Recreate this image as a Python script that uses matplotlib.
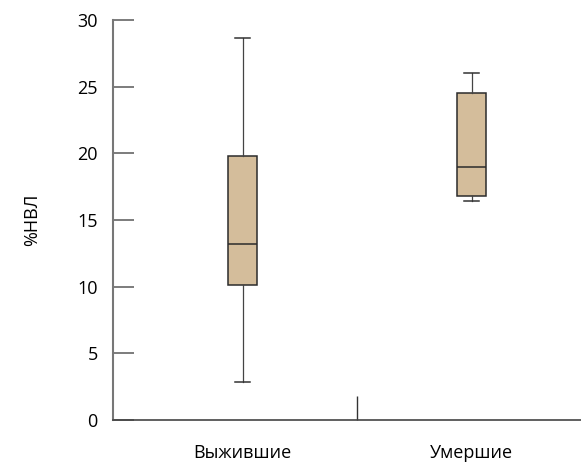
import matplotlib
matplotlib.use("Agg")
import matplotlib.pyplot as plt

categories = ["Выжившие", "Умершие"]
whislo = [2.85, 16.4]
q1 = [10.1, 16.8]
med = [13.2, 19.0]
q3 = [19.8, 24.55]
whishi = [28.65, 26.0]
yticks = [0, 5, 10, 15, 20, 25, 30]

plt.rcParams['font.family'] = ['Open Sans', 'DejaVu Sans']
fig = plt.figure(figsize=(5.81, 4.66), dpi=100)
ax = fig.add_axes([113/581, 1-420/466, 1-113/581, 400/466])

stats = [dict(whislo=a, q1=b, med=c, q3=d, whishi=e, label=l)
         for a, b, c, d, e, l in zip(whislo, q1, med, q3, whishi, categories)]
ax.bxp(stats, positions=[0, 1], widths=0.13, patch_artist=True, showfliers=False,
       boxprops=dict(facecolor='#D4BD9B', edgecolor='#2b2b2b', linewidth=1.1),
       medianprops=dict(color='#2b2b2b', linewidth=1.1),
       whiskerprops=dict(color='#444444', linewidth=0.9),
       capprops=dict(color='#333333', linewidth=1.1))

ax.set_xlim(-0.5655, 1.478)
ax.set_ylim(0, 30)
ax.set_yticks(yticks)
ax.set_yticklabels([str(t) for t in yticks], fontsize=13)
ax.tick_params(axis='y', direction='in', length=15, width=1.2, color='#666666', pad=11)
ax.set_xticks([0.5])
ax.set_xticklabels([''])
ax.tick_params(axis='x', direction='in', length=17, width=1.0, color='#333333')
for x, l in zip([0, 1], categories):
    ax.text(x, -0.083, l, transform=ax.get_xaxis_transform(), ha='center', va='center', fontsize=13)
for s in ['top', 'right']:
    ax.spines[s].set_visible(False)
ax.spines['left'].set_color('#777777')
ax.spines['left'].set_linewidth(1.5)
ax.spines['bottom'].set_color('#444444')
ax.spines['bottom'].set_linewidth(1.2)
ax.set_ylabel('%НВЛ', fontsize=13, labelpad=26)

fig.savefig('out.png', dpi=100)
